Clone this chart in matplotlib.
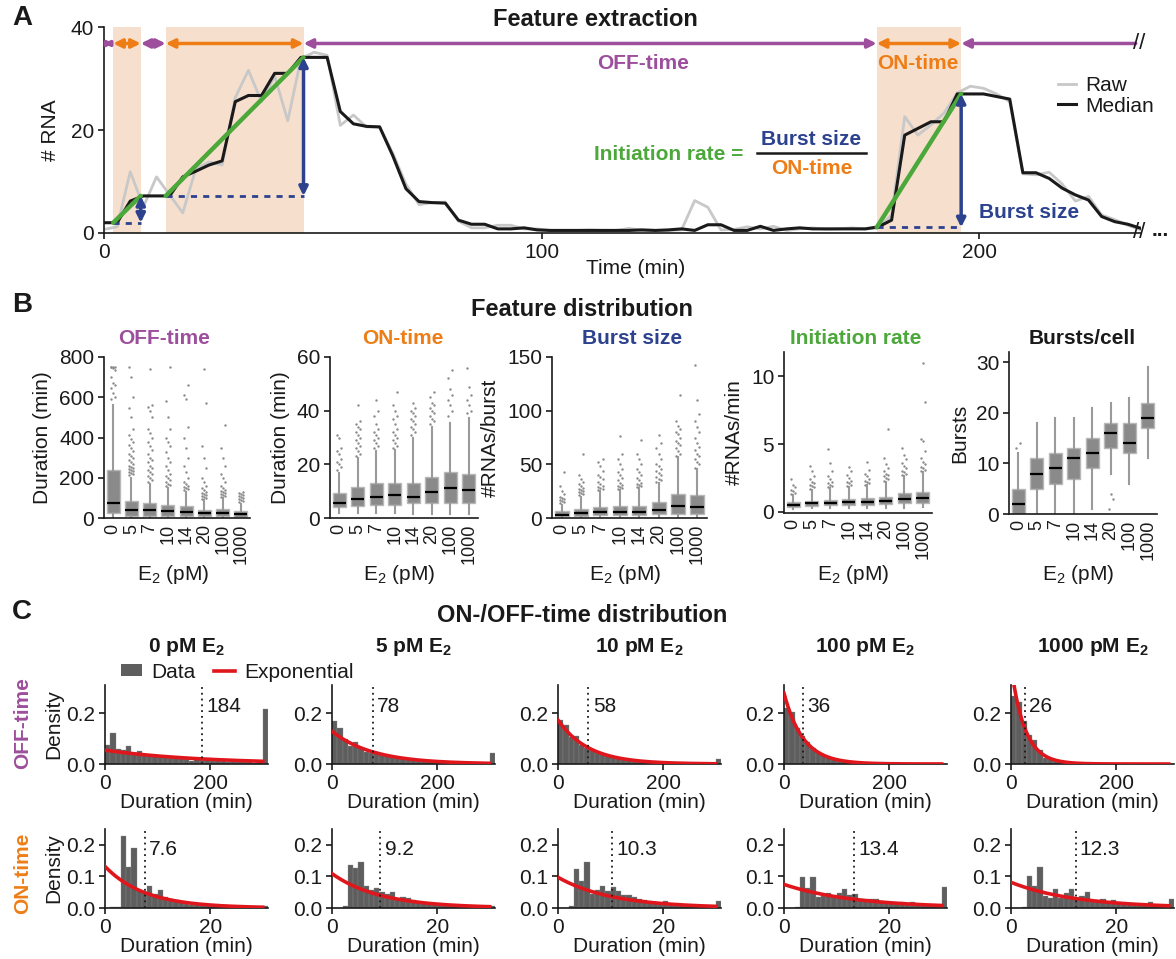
import numpy as np
import matplotlib
matplotlib.use("Agg")
import matplotlib.pyplot as plt
from matplotlib.patches import Patch
from matplotlib.lines import Line2D

# ---------------------------------------------------------------- data
# A: single-cell transcription trace (3-min frames)
trace_time = np.arange(0, 238, 3)
trace_median = [2.0, 2.0, 6.2, 7.2, 7.2, 7.2, 10.9, 12.0, 13.2, 14.0,
                25.5, 26.7, 26.7, 31.0, 31.0, 34.1, 34.1, 34.1, 23.6, 21.2,
                20.7, 20.6, 15.0, 8.6, 6.1, 5.9, 5.8, 2.5, 1.7, 1.7,
                0.8, 0.8, 1.0, 0.6, 0.5, 0.5, 0.5, 0.5, 0.5, 0.5,
                0.5, 0.6, 0.5, 0.6, 0.8, 0.5, 1.6, 1.6, 0.5, 0.5,
                1.3, 0.5, 0.8, 1.0, 0.8, 0.8, 0.8, 0.8, 0.8, 1.2,
                2.5, 19.0, 20.3, 21.6, 21.6, 27.0, 27.0, 27.0, 26.5, 26.0,
                11.7, 11.7, 10.6, 8.7, 7.4, 6.4, 3.2, 2.2, 1.7, 0.9]
trace_raw = [0.7, 1.2, 11.9, 5.1, 10.9, 7.4, 3.9, 12.5, 13.8, 13.2,
             26.3, 31.6, 25.5, 30.5, 21.8, 33.8, 35.1, 34.5, 20.9, 22.9,
             20.6, 20.6, 15.5, 9.5, 5.5, 5.9, 6.0, 2.3, 1.0, 1.0,
             1.5, 1.5, 0.8, 0.8, 0.5, 0.5, 0.5, 0.6, 0.5, 0.5,
             0.9, 0.5, 0.5, 0.5, 0.6, 6.3, 5.0, 0.6, 0.7, 1.2,
             0.8, 1.3, 0.5, 0.8, 1.0, 0.7, 0.8, 1.0, 0.8, 1.0,
             3.5, 22.6, 19.0, 21.0, 23.3, 27.2, 28.5, 28.1, 27.0, 25.5,
             11.5, 11.3, 11.8, 9.5, 6.2, 7.1, 3.5, 2.6, 1.5, 0.6]
burst_start = [2.1, 14.1, 176.6]
burst_end = [8.4, 45.6, 195.9]
burst_base = [2.0, 7.2, 1.1]
burst_peak = [7.2, 34.1, 27.0]

# B: feature distributions per E2 concentration
conc_labels = ["0", "5", "7", "10", "14", "20", "100", "1000"]

off_med = [76, 40, 38, 37, 32, 25, 25, 20]
off_q1 = [27, 12, 12, 12, 10, 8, 8, 6]
off_q3 = [239, 86, 75, 65, 60, 40, 45, 33]
off_lo = [3, 3, 3, 3, 3, 3, 3, 3]
off_hi = [562, 200, 170, 150, 130, 90, 100, 70]
off_fliers = [
    [590, 600, 620, 645, 660, 670, 700, 735, 745, 748, 750, 750, 750],
    [215, 220, 225, 230, 235, 240, 245, 250, 255, 260, 270, 280, 290, 300,
     310, 320, 335, 350, 365, 380, 395, 410, 440, 500, 545, 600, 700, 750],
    [180, 190, 200, 210, 220, 230, 240, 250, 260, 280, 290, 300, 320, 340,
     360, 380, 400, 420, 440, 500, 530, 550, 560, 740],
    [160, 165, 170, 180, 190, 200, 210, 220, 240, 260, 280, 300, 330, 360,
     380, 400, 440, 500, 580, 750],
    [140, 145, 150, 155, 160, 170, 180, 200, 230, 260, 300, 350, 400, 450,
     590, 610, 660],
    [95, 100, 105, 110, 115, 120, 125, 130, 140, 150, 160, 180, 200, 250,
     300, 360, 570, 740],
    [105, 110, 115, 120, 125, 130, 135, 140, 150, 160, 180, 200, 220, 260,
     300, 350, 460],
    [80, 85, 90, 95, 100, 105, 110, 115, 120, 125, 130],
]

on_med = [5.5, 7.1, 8.0, 8.4, 7.9, 9.6, 11.1, 10.4]
on_q1 = [4.0, 4.5, 5.0, 5.0, 5.7, 5.7, 5.7, 5.7]
on_q3 = [9.4, 11.7, 13.2, 13.2, 13.2, 15.4, 17.3, 16.4]
on_lo = [2, 2, 2, 2, 1.5, 1.5, 1.5, 1.5]
on_hi = [16.9, 22.2, 25.0, 25.5, 29.7, 34.0, 35.5, 37.2]
on_fliers = [
    [18, 19, 20, 21, 22, 24, 25, 26, 30, 31],
    [23, 24, 25, 26, 27, 28, 29, 30, 31, 32, 33, 34, 35, 36, 42],
    [26, 27, 28, 29, 30, 31, 32, 33, 35, 38, 40, 44],
    [26, 27, 28, 29, 30, 31, 32, 33, 35, 37, 38, 40, 42, 47],
    [31, 32, 33, 34, 35, 36, 37, 38, 39, 40, 41, 43],
    [35, 36, 37, 38, 39, 40, 41, 42, 43, 45, 47],
    [38, 40, 42, 44, 46, 48, 52, 55],
    [39, 40, 42, 44, 46, 49, 56],
]

bs_med = [3.1, 4.3, 5.3, 5.6, 5.6, 7.7, 10.8, 10.5]
bs_q1 = [1.5, 2.2, 2.8, 2.8, 2.8, 4.0, 4.0, 4.0]
bs_q3 = [6.2, 8.4, 10.2, 10.8, 11.4, 14.8, 22.6, 21.0]
bs_lo = [1, 1, 1, 1, 1, 1, 1, 1]
bs_hi = [12.4, 20, 25, 26, 28, 32.5, 57, 46]
bs_fliers = [
    [14, 15, 16, 17, 18, 19, 20, 22, 25, 30, 43],
    [21, 22, 23, 24, 25, 26, 27, 28, 30, 32, 34, 36, 40, 60],
    [26, 27, 28, 29, 30, 32, 34, 36, 38, 40, 44, 48, 52, 55],
    [27, 28, 29, 30, 31, 33, 35, 37, 40, 43, 46, 50, 55, 60, 76],
    [29, 30, 31, 32, 33, 35, 37, 40, 43, 46, 50, 55, 60, 73],
    [34, 35, 36, 38, 40, 42, 44, 46, 48, 50, 55, 60, 65, 70, 77],
    [58, 60, 62, 65, 68, 70, 72, 75, 78, 80, 83, 86, 90, 115],
    [47, 50, 52, 55, 58, 60, 63, 66, 70, 75, 80, 85, 90, 97, 110, 143],
]

ir_med = [0.49, 0.61, 0.66, 0.69, 0.71, 0.79, 0.93, 0.98]
ir_q1 = [0.37, 0.44, 0.46, 0.49, 0.49, 0.54, 0.61, 0.66]
ir_q3 = [0.69, 0.81, 0.86, 0.93, 0.98, 1.10, 1.40, 1.45]
ir_lo = [0.2, 0.25, 0.25, 0.25, 0.25, 0.3, 0.3, 0.35]
ir_hi = [1.23, 1.6, 1.72, 1.84, 1.97, 2.2, 2.6, 2.95]
ir_fliers = [
    [1.3, 1.4, 1.5, 1.6, 1.8, 2.0, 2.4],
    [1.7, 1.8, 1.9, 2.0, 2.1, 2.2, 2.4, 2.6, 3.0, 3.4],
    [1.8, 1.9, 2.0, 2.1, 2.2, 2.4, 2.6, 3.0, 3.6, 4.6],
    [1.9, 2.0, 2.1, 2.2, 2.3, 2.5, 2.7, 3.0, 3.3],
    [2.0, 2.1, 2.2, 2.3, 2.4, 2.6, 2.8, 3.1, 3.7],
    [2.3, 2.4, 2.5, 2.6, 2.7, 2.8, 3.0, 3.2, 3.5, 4.0, 6.1],
    [2.7, 2.8, 2.9, 3.0, 3.2, 3.4, 3.6, 3.9, 4.2, 4.7],
    [3.0, 3.1, 3.2, 3.3, 3.5, 3.7, 4.0, 4.5, 5.2, 5.4, 8.1, 11.0],
]

bpc_med = [2, 8, 9, 11, 12, 16, 14, 19]
bpc_q1 = [0, 5, 6, 7, 9, 13, 12, 17]
bpc_q3 = [5, 11, 12, 13, 15, 18, 18, 22]
bpc_lo = [0, 0, 0, 0, 1, 8, 6, 11]
bpc_hi = [12, 18, 19, 19, 21, 22, 23, 29]
bpc_fliers = [[13, 14], [], [], [], [], [1, 3, 4], [], []]

# C: ON/OFF-time histograms (fraction per bin, last bin = overflow)
hist_conc = ["0", "5", "10", "100", "1000"]
off_bin = 10
on_bin = 1
off_mean = [184, 78, 58, 36, 26]
on_mean = [7.6, 9.2, 10.3, 13.4, 12.3]
off_hist = [
    [0.075, 0.122, 0.058, 0.055, 0.070, 0.040, 0.050, 0.035, 0.032, 0.030,
     0.032, 0.028, 0.025, 0.022, 0.024, 0.020, 0.012, 0.018, 0.016, 0.014,
     0.012, 0.010, 0.013, 0.008, 0.010, 0.007, 0.006, 0.008, 0.005, 0.006, 0.217],
    [0.170, 0.143, 0.100, 0.070, 0.088, 0.062, 0.048, 0.042, 0.046, 0.035,
     0.030, 0.026, 0.022, 0.020, 0.016, 0.014, 0.012, 0.010, 0.010, 0.008,
     0.007, 0.006, 0.005, 0.005, 0.004, 0.003, 0.003, 0.003, 0.002, 0.002, 0.043],
    [0.172, 0.155, 0.105, 0.108, 0.075, 0.062, 0.055, 0.045, 0.040, 0.032,
     0.026, 0.022, 0.018, 0.015, 0.012, 0.010, 0.008, 0.007, 0.006, 0.005,
     0.004, 0.003, 0.003, 0.002, 0.002, 0.002, 0.001, 0.001, 0.001, 0.001, 0.020],
    [0.218, 0.205, 0.140, 0.108, 0.088, 0.062, 0.047, 0.035, 0.027, 0.020,
     0.015, 0.011, 0.008, 0.006, 0.005, 0.004, 0.003, 0.002, 0.002, 0.0015,
     0.001, 0.001, 0.001, 0.001, 0.0005, 0.0005, 0.0005, 0.0005, 0.0005, 0.0005, 0.0],
    [0.267, 0.243, 0.170, 0.113, 0.095, 0.053, 0.025, 0.018, 0.010, 0.006,
     0.004, 0.003, 0.002, 0.001, 0.001, 0.001, 0.0005, 0.0005, 0.0005, 0.0003,
     0.0003, 0.0003, 0.0002, 0.0002, 0.0002, 0.0001, 0.0001, 0.0001, 0.0001, 0.0001, 0.0],
]
on_hist = [
    [0.0, 0.003, 0.003, 0.228, 0.130, 0.190, 0.055, 0.050, 0.070, 0.045,
     0.058, 0.035, 0.030, 0.025, 0.020, 0.012, 0.010, 0.008, 0.010, 0.008,
     0.006, 0.006, 0.005, 0.004, 0.004, 0.003, 0.003, 0.002, 0.002, 0.002, 0.007],
    [0.0, 0.0, 0.005, 0.135, 0.126, 0.145, 0.070, 0.057, 0.064, 0.052,
     0.044, 0.052, 0.032, 0.035, 0.033, 0.025, 0.022, 0.018, 0.016, 0.012,
     0.012, 0.010, 0.009, 0.008, 0.007, 0.006, 0.005, 0.005, 0.004, 0.004, 0.007],
    [0.0, 0.0, 0.005, 0.123, 0.086, 0.144, 0.045, 0.058, 0.070, 0.053,
     0.068, 0.055, 0.040, 0.040, 0.035, 0.030, 0.025, 0.020, 0.018, 0.015,
     0.021, 0.010, 0.009, 0.008, 0.007, 0.006, 0.005, 0.005, 0.004, 0.004, 0.023],
    [0.0, 0.0, 0.003, 0.097, 0.063, 0.097, 0.035, 0.037, 0.047, 0.039,
     0.047, 0.061, 0.042, 0.045, 0.030, 0.028, 0.028, 0.027, 0.022, 0.020,
     0.018, 0.016, 0.020, 0.013, 0.020, 0.010, 0.010, 0.008, 0.006, 0.005, 0.068],
    [0.0, 0.0, 0.003, 0.102, 0.070, 0.130, 0.039, 0.032, 0.061, 0.032,
     0.047, 0.061, 0.028, 0.039, 0.050, 0.022, 0.025, 0.028, 0.020, 0.025,
     0.020, 0.015, 0.012, 0.012, 0.010, 0.008, 0.020, 0.008, 0.006, 0.005, 0.028],
]

# ---------------------------------------------------------------- style
PURPLE = "#9D4E9C"
ORANGE = "#EE7D16"
BLUE = "#2C428F"
GREEN = "#4CA83A"
RED = "#E0161D"
SHADE = "#F6E0CD"
INK = "#1a1a1a"
BOXFILL = "#8a8a8a"
BAR = "#5e5e5e"

plt.rcParams.update({
    "font.family": ["Liberation Sans", "DejaVu Sans"],
    "mathtext.fontset": "custom",
    "mathtext.rm": "Liberation Sans",
    "mathtext.it": "Liberation Sans:italic",
    "mathtext.bf": "Liberation Sans:bold",
    "font.size": 15,
    "text.color": INK,
    "axes.labelcolor": INK,
    "axes.edgecolor": INK,
    "axes.linewidth": 1.2,
    "xtick.color": INK,
    "ytick.color": INK,
    "xtick.major.width": 1.2,
    "ytick.major.width": 1.2,
    "xtick.major.size": 4.5,
    "ytick.major.size": 4.5,
    "xtick.major.pad": 2.5,
    "ytick.major.pad": 2.5,
    "xtick.labelsize": 15,
    "ytick.labelsize": 15,
    "axes.labelsize": 15,
})

W, H = 1176, 959
fig = plt.figure(figsize=(W / 100, H / 100), dpi=100)


def rect(l, t, r, b):
    return [l / W, 1 - b / H, (r - l) / W, (b - t) / H]


def ftext(x, y, s, **kw):
    fig.text(x / W, 1 - y / H, s, **kw)


def clean(ax):
    ax.spines[["top", "right"]].set_visible(False)


# ---------------------------------------------------------------- panel A
axA = fig.add_axes(rect(104, 27, 1141, 233))
clean(axA)
axA.set_xlim(0, 237)
axA.set_ylim(0, 40)
axA.set_xticks([0, 100, 200])
axA.set_yticks([0, 20, 40])

for s, e in zip(burst_start, burst_end):
    axA.axvspan(s, e, ymax=1.0, color=SHADE, lw=0, zorder=0)

axA.plot(trace_time, trace_raw, color="#c8c8c8", lw=2.0, label="Raw", zorder=2)
axA.plot(trace_time, trace_median, color=INK, lw=2.2, label="Median", zorder=3)

for s, e, lo, hi in zip(burst_start, burst_end, burst_base, burst_peak):
    axA.plot([s, e], [lo, lo], color=BLUE, lw=2.0, ls=(0, (2.2, 2.2)), zorder=4)
    axA.plot([s, e], [lo, hi], color=GREEN, lw=3.2, zorder=5,
             solid_capstyle="round")
    axA.annotate("", xy=(e, hi), xytext=(e, lo),
                 arrowprops=dict(arrowstyle="<|-|>", color=BLUE, lw=2.5,
                                 mutation_scale=13, shrinkA=0, shrinkB=0),
                 zorder=6)

# state arrows along the top
arrow_y = 36.8
edges = [0] + [v for pair in zip(burst_start, burst_end) for v in pair] + [235.8]
for k in range(len(edges) - 1):
    col = PURPLE if k % 2 == 0 else ORANGE
    style = "<|-|>" if k < len(edges) - 2 else "<|-"
    ms = 7 if k == 0 else 13
    axA.annotate("", xy=(edges[k + 1], arrow_y), xytext=(edges[k], arrow_y),
                 arrowprops=dict(arrowstyle=style, color=col, lw=2.5,
                                 mutation_scale=ms, shrinkA=0, shrinkB=0),
                 annotation_clip=False)

axA.text(236.6, arrow_y, "//", ha="center", va="center", fontsize=16,
         clip_on=False)
axA.text(236.6, 0, "//", ha="center", va="center", fontsize=16,
         clip_on=False)
axA.text(241.5, -0.6, "...", ha="center", va="baseline", fontsize=15,
         fontweight="bold", clip_on=False)

axA.text(123.2, 33.0, "OFF-time", color=PURPLE, fontweight="bold",
         ha="center", va="center", fontsize=15)
axA.text(186.0, 33.0, "ON-time", color=ORANGE, fontweight="bold",
         ha="center", va="center", fontsize=15)
axA.text(146.1, 15.2, "Initiation rate =", color=GREEN, fontweight="bold",
         ha="right", va="center", fontsize=15)
axA.text(161.7, 18.2, "Burst size", color=BLUE, fontweight="bold",
         ha="center", va="center", fontsize=15)
axA.plot([149.3, 174.2], [15.5, 15.5], color=INK, lw=1.8)
axA.text(161.7, 12.6, "ON-time", color=ORANGE, fontweight="bold",
         ha="center", va="center", fontsize=15)
axA.text(211.4, 3.9, "Burst size", color=BLUE, fontweight="bold",
         ha="center", va="center", fontsize=15)

axA.set_ylabel("# RNA", labelpad=8)
axA.set_xlabel("Time (min)")
axA.xaxis.set_label_coords((636 - 104) / 1037, -(268 - 233) / 206)
axA.xaxis.label.set_verticalalignment("center")
axA.legend(loc="upper left",
           bbox_to_anchor=((1058 - 104) / 1037, (233 - 76) / 206),
           frameon=False, handlelength=0.85, handletextpad=0.45,
           labelspacing=0.08, borderpad=0, borderaxespad=0, fontsize=15)

# ---------------------------------------------------------------- panel B
b_specs = [
    ("OFF-time", PURPLE, "Duration (min)", (104, 357, 250, 518), (0, 800),
     [0, 200, 400, 600, 800], off_med, off_q1, off_q3, off_lo, off_hi,
     off_fliers, 164),
    ("ON-time", ORANGE, "Duration (min)", (330, 357, 478, 518), (0, 60),
     [0, 20, 40, 60], on_med, on_q1, on_q3, on_lo, on_hi, on_fliers, 403),
    ("Burst size", BLUE, "#RNAs/burst", (552, 357, 707, 518), (0, 150),
     [0, 50, 100, 150], bs_med, bs_q1, bs_q3, bs_lo, bs_hi, bs_fliers, 632),
    ("Initiation rate", GREEN, "#RNAs/min", (784, 352, 932, 513),
     (-0.1, 11.8), [0, 5, 10], ir_med, ir_q1, ir_q3, ir_lo, ir_hi,
     ir_fliers, 856),
    ("Bursts/cell", INK, "Bursts", (1009, 352, 1157, 514), (0, 32),
     [0, 10, 20, 30], bpc_med, bpc_q1, bpc_q3, bpc_lo, bpc_hi, bpc_fliers,
     1082),
]
jitter = [-0.11, 0.11, 0.0]
positions = np.arange(1, len(conc_labels) + 1)
for (title, tcol, ylab, r, ylim, yt, med, q1, q3, lo, hi, fl, tx) in b_specs:
    ax = fig.add_axes(rect(*r))
    clean(ax)
    stats = [dict(med=med[i], q1=q1[i], q3=q3[i], whislo=lo[i],
                  whishi=hi[i], fliers=[]) for i in range(len(med))]
    ax.bxp(stats, positions=positions, widths=0.72, patch_artist=True,
           showcaps=False, showfliers=False,
           boxprops=dict(facecolor=BOXFILL, edgecolor="#b8b8b8", lw=1.0),
           medianprops=dict(color="black", lw=1.6),
           whiskerprops=dict(color="#9a9a9a", lw=1.5))
    for i, vals in enumerate(fl):
        xs = [positions[i] + jitter[j % 3] for j in range(len(vals))]
        ax.scatter(xs, vals, s=3, color="#8a8a8a", lw=0, zorder=3,
                   clip_on=False)
    ax.set_xlim(0.5, 8.5)
    ax.set_ylim(*ylim)
    ax.set_yticks(yt)
    ax.set_xticks(positions)
    ax.set_xticklabels(conc_labels, rotation=90, fontsize=13)
    ax.tick_params(axis="x", length=0, pad=4)
    ax.set_ylabel(ylab, labelpad=5)
    ax.set_xlabel(r"E$_2$ (pM)")
    bottom_px = r[3]
    ax.xaxis.set_label_coords(0.47, -(575 - bottom_px) / (r[3] - r[1]))
    ax.xaxis.label.set_verticalalignment("center")
    ftext(tx, 339, title, color=tcol, fontweight="bold", fontsize=15,
          ha="center", va="center")

# ---------------------------------------------------------------- panel C
c_left = [105, 332, 558, 784, 1011]
for i in range(len(hist_conc)):
    L = c_left[i]
    rows = [
        (off_hist[i], off_bin, off_mean[i], (L, 685, L + 163, 764),
         (0, 0.31), [0.0, 0.2], [0, 200], 300, 0.224),
        (on_hist[i], on_bin, on_mean[i], (L, 829, L + 163, 908),
         (0, 0.25), [0.0, 0.1, 0.2], [0, 20], 30, 0.186),
    ]
    for (vals, bw, mean, r, ylim, yt, xt, xmax, ylab_y) in rows:
        ax = fig.add_axes(rect(*r))
        clean(ax)
        left_edges = np.arange(len(vals)) * bw
        ax.bar(left_edges, vals, width=bw, align="edge", color=BAR,
               edgecolor="#8c8c8c", lw=0.25, zorder=1)
        xs = np.linspace(0, xmax, 300)
        ax.plot(xs, bw / mean * np.exp(-xs / mean), color=RED, lw=2.6,
                zorder=3)
        ax.axvline(mean, color=INK, ls=(0, (1, 2.2)), lw=1.3, zorder=4)
        ax.annotate(f"{mean:g}", xy=(mean, ylab_y), xytext=(3, 0),
                    textcoords="offset points", ha="left", va="center",
                    fontsize=15)
        ax.set_xlim(0, len(vals) * bw)
        ax.set_ylim(*ylim)
        ax.set_yticks(yt)
        ax.set_yticklabels([f"{v:.1f}" for v in yt])
        ax.set_xticks(xt)
        ax.set_xlabel("Duration (min)")
        ax.xaxis.set_label_coords(0.5, -(803 - 764) / 79)
        ax.xaxis.label.set_verticalalignment("center")
        if i == 0:
            ax.set_ylabel("Density", labelpad=2)
    ftext(L + 81.5, 647, rf"{hist_conc[i]} pM E$_\mathbf{{2}}$",
          fontweight="bold", fontsize=15, ha="center", va="center")

ftext(23, 723, "OFF-time", color=PURPLE, fontweight="bold", fontsize=15,
      rotation=90, ha="center", va="center")
ftext(23, 873, "ON-time", color=ORANGE, fontweight="bold", fontsize=15,
      rotation=90, ha="center", va="center")

fig.legend(handles=[Patch(facecolor=BAR, edgecolor="none", label="Data"),
                    Line2D([], [], color=RED, lw=2.6, label="Exponential")],
           loc="center left", bbox_to_anchor=(121 / W, 1 - 672 / H), ncol=2,
           frameon=False, handlelength=1.0, handleheight=0.5,
           handletextpad=0.45, columnspacing=0.9, borderpad=0,
           borderaxespad=0, fontsize=15)

# ---------------------------------------------------------------- headings
ftext(12, 18, "A", fontweight="bold", fontsize=20, ha="left", va="center")
ftext(12, 305, "B", fontweight="bold", fontsize=20, ha="left", va="center")
ftext(12, 612, "C", fontweight="bold", fontsize=20, ha="left", va="center")
ftext(595, 20, "Feature extraction", fontweight="bold", fontsize=17,
      ha="center", va="center")
ftext(582, 310, "Feature distribution", fontweight="bold", fontsize=17,
      ha="center", va="center")
ftext(582, 615, "ON-/OFF-time distribution", fontweight="bold", fontsize=17,
      ha="center", va="center")

fig.savefig("out.png", dpi=100)
